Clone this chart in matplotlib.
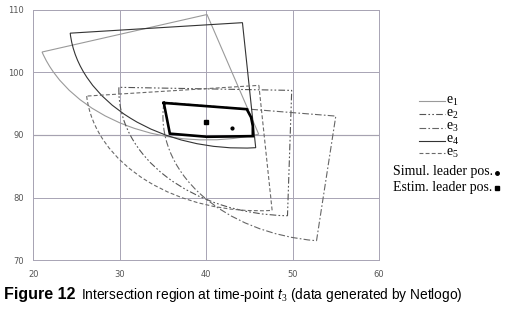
import numpy as np
import matplotlib
matplotlib.use('Agg')
from matplotlib import pyplot as plt
from matplotlib.patches import Wedge
from matplotlib.lines import Line2D

plt.rcParams['mathtext.fontset'] = 'custom'
plt.rcParams['mathtext.rm'] = 'Liberation Serif'
plt.rcParams['mathtext.it'] = 'Liberation Sans:italic'

# estimate sectors e1..e5: centre, radius and angle range (degrees)
names = ['1', '2', '3', '4', '5']
cx = [40.1, 49.9, 55.0, 44.2, 46.1]
cy = [109.2, 97.1, 93.0, 107.9, 97.9]
radius = [20, 20, 20, 20, 20]
ang_from = [197.4, 178.6, 173.7, 184.8, 184.9]
ang_to = [287.4, 268.6, 263.6, 274.4, 274.4]

# intersection region outline
region_x = [35.1, 44.7, 45.2, 45.4, 45.4, 40.1, 35.8, 35.1]
region_y = [95.1, 94.1, 92.8, 91.4, 89.8, 89.7, 90.2, 95.1]

simul_x, simul_y = 43.0, 91.1
estim_x, estim_y = 40.0, 92.1

xticks = [20, 30, 40, 50, 60]
yticks = [70, 80, 90, 100, 110]

styles = ['-', (0, (6, 2, 1.5, 2, 1.5, 2)), (0, (6, 2, 1.5, 2)), '-', (0, (3.5, 2))]
colors = ['#9a9a9a', '#555555', '#666666', '#333333', '#6a6a6a']

W, H = 518, 318
fig = plt.figure(figsize=(W / 100, H / 100), dpi=100)
ax = fig.add_axes([33.3 / W, 1 - 260.3 / H, (379 - 33.3) / W, (260.3 - 9.5) / H])

ax.set_xlim(20, 60)
ax.set_ylim(70, 110)
ax.set_xticks(xticks)
ax.set_yticks(yticks)
ax.tick_params(length=0, labelsize=6, labelcolor='#555555', pad=7)
for s in ax.spines.values():
    s.set_color('#a8a4b4')
    s.set_linewidth(0.7)
ax.grid(True, color='#a8a4b4', lw=0.7)
ax.axhline(90, color='#6a6a6a', lw=0.8, zorder=1)

for i in range(len(names)):
    w = Wedge((cx[i], cy[i]), radius[i], ang_from[i], ang_to[i], fill=False,
              ec=colors[i], lw=0.8, ls=styles[i], zorder=2)
    ax.add_patch(w)

ax.plot(region_x, region_y, color='black', lw=1.9, zorder=3, solid_joinstyle='miter')
ax.plot(estim_x, estim_y, 's', color='black', ms=2.6, zorder=4)
ax.plot(simul_x, simul_y, 'o', color='black', ms=2.0, zorder=4)

# legend, drawn by hand to the right of the plot
leg_y = [101, 114, 127.5, 140.5, 153]
for i in range(len(names)):
    fy = 1 - leg_y[i] / H
    fig.add_artist(Line2D([419 / W, 445 / W], [fy, fy], transform=fig.transFigure,
                          color=colors[i], lw=0.8, ls=styles[i]))
    fig.text(446 / W, fy, r'$\mathrm{e}_{%s}$' % names[i], family='Liberation Serif',
             fontsize=10, va='center', ha='left')

fig.text(393 / W, 1 - 172 / H, 'Simul. leader pos.', family='Liberation Serif',
         fontsize=10, va='center')
fig.add_artist(Line2D([497 / W], [1 - 172.5 / H], transform=fig.transFigure,
                      marker='o', ms=2.5, color='black', ls='none'))
fig.text(393 / W, 1 - 187 / H, 'Estim. leader pos.', family='Liberation Serif',
         fontsize=10, va='center')
fig.add_artist(Line2D([497 / W], [1 - 187.5 / H], transform=fig.transFigure,
                      marker='s', ms=3, color='black', ls='none'))

# caption
fig.text(4 / W, 1 - 299 / H, 'Figure 12', family='Liberation Sans', weight='bold',
         fontsize=11.5, va='baseline')
fig.text(81 / W, 1 - 299 / H,
         r'Intersection region at time-point $t_{\mathit{3}}$ (data generated by Netlogo)',
         family='Liberation Sans', fontsize=9.9, va='baseline')

fig.savefig('out.png', dpi=100)
